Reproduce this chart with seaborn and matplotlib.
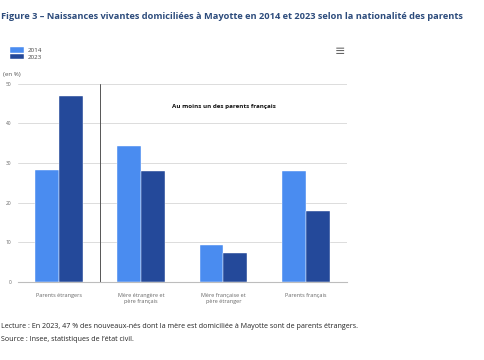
import pandas as pd
import numpy as np
import seaborn as sns
import matplotlib.pyplot as plt

# Données (en %)
categories = ['Parents étrangers', 'Mère étrangère et\npère français',
              'Mère française et\npère étranger', 'Parents français']
annees = ['2014', '2023']
valeurs_2014 = [28.2, 34.4, 9.3, 27.9]
valeurs_2023 = [46.9, 27.9, 7.2, 17.8]

couleurs = {'2014': '#4a8cf0', '2023': '#24499a'}

df = pd.DataFrame({
    'Nationalité': categories * 2,
    'Année': ['2014'] * 4 + ['2023'] * 4,
    'Part': valeurs_2014 + valeurs_2023,
})

sns.set_theme(style='white')
plt.rcParams['font.family'] = ['Open Sans', 'DejaVu Sans']

fig = plt.figure(figsize=(4.85, 3.6), dpi=100)
ax = fig.add_axes([0.037, 0.217, 0.678, 0.55])

sns.barplot(data=df, x='Nationalité', y='Part', hue='Année', hue_order=annees,
            palette=couleurs, width=0.58, gap=0, saturation=1,
            edgecolor='white', linewidth=0.3, ax=ax, legend=True)

ax.set_ylim(0, 50)
ax.set_xlim(-0.5, 3.5)
ax.set_yticks([0, 10, 20, 30, 40, 50])
ax.yaxis.grid(True, color='#dcdcdc', linewidth=0.7)
ax.set_axisbelow(True)
for s in ['top', 'right', 'left']:
    ax.spines[s].set_visible(False)
ax.spines['bottom'].set_color('#bdbdbd')
ax.spines['bottom'].set_linewidth(0.8)
ax.tick_params(axis='y', labelsize=3.5, labelcolor='#666666', length=0, pad=5)
ax.tick_params(axis='x', labelsize=4.0, labelcolor='#666666', length=2,
               color='#bdbdbd', width=0.6, pad=6)
ax.set_xlabel('')
ax.set_ylabel('')

# séparateur entre "Parents étrangers" et le reste
ax.axvline(0.5, color='#555555', linewidth=0.7)
ax.text(2.0, 44.3, 'Au moins un des parents français', ha='center', va='center',
        fontsize=4.5, fontweight='bold', color='#111111')

ax.legend(loc='upper left', bbox_to_anchor=(0.014, 0.877), bbox_transform=fig.transFigure,
          frameon=False, fontsize=4.5, handlelength=2.3, handleheight=0.9,
          handletextpad=0.5, labelspacing=0.15, borderpad=0,
          labelcolor='#444444')

fig.text(0.006, 0.792, '(en %)', fontsize=4.5, color='#555555', va='center')

fig.text(0.002, 0.953, 'Figure 3 – Naissances vivantes domiciliées à Mayotte en 2014 et 2023 '
         'selon la nationalité des parents', fontsize=6.7, fontweight='bold',
         color='#2d4c7c', va='center')

fig.text(0.69, 0.858, '≡', fontsize=9, color='#666666', va='center',
         family='DejaVu Sans')

fig.text(0.002, 0.092, 'Lecture : En 2023, 47 % des nouveaux-nés dont la mère est domiciliée '
         'à Mayotte sont de parents étrangers.', fontsize=5.1, color='#222222', va='center')
fig.text(0.002, 0.056, 'Source : Insee, statistiques de l\u2019état civil.', fontsize=5.1,
         color='#222222', va='center')

fig.savefig('out.png', dpi=100)
